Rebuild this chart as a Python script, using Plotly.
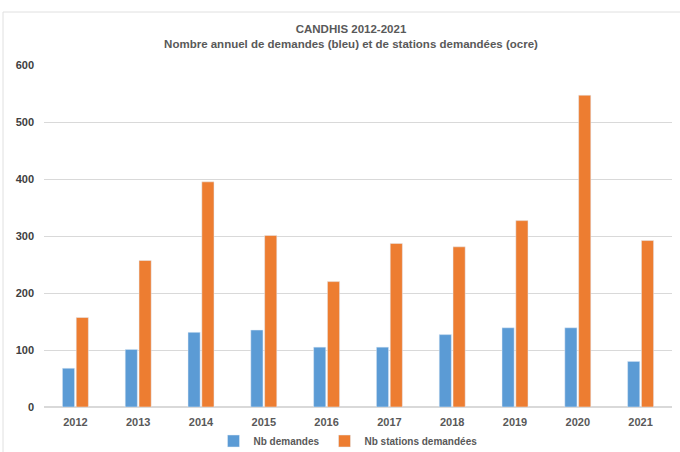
import plotly.graph_objects as go

years = ["2012", "2013", "2014", "2015", "2016", "2017", "2018", "2019", "2020", "2021"]
nb_demandes = [68, 101, 131, 135, 105, 105, 127, 139, 139, 80]
nb_stations = [157, 257, 395, 301, 220, 287, 281, 327, 547, 292]

FONT = "Liberation Sans"
GREY = "#595959"

fig = go.Figure()
fig.add_trace(go.Bar(name="<b>Nb demandes</b>", x=years, y=nb_demandes, marker_color="#5b9bd5"))
fig.add_trace(go.Bar(name="<b>Nb stations demandées</b>", x=years, y=nb_stations, marker_color="#ed7d31"))

fig.update_layout(
    width=680, height=452,
    margin=dict(l=44, r=8, t=65, b=45, autoexpand=False),
    paper_bgcolor="white", plot_bgcolor="white",
    barmode="group", bargap=0.56, bargroupgap=0.12,
    font=dict(family=FONT, color=GREY),
    title=dict(
        text="<b>CANDHIS 2012-2021</b><br><b>Nombre annuel de demandes (bleu) et de stations demandées (ocre)</b>",
        x=351 / 680, xanchor="center", y=1 - 33 / 452, yanchor="middle",
        font=dict(family=FONT, size=11.5, color=GREY),
    ),
    showlegend=True,
    legend=dict(
        orientation="h", xref="container", x=348 / 680, xanchor="center",
        yref="container", y=(452 - 441) / 452, yanchor="middle",
        font=dict(family=FONT, size=10, color=GREY), itemwidth=30,
        tracegroupgap=0,
    ),
    xaxis=dict(
        showgrid=False, showline=False, ticks="", automargin=False,
        tickfont=dict(family=FONT, size=11, color=GREY),
        tickprefix="<b>", ticksuffix="</b>", ticklabelstandoff=7,
    ),
    yaxis=dict(
        range=[0, 600], dtick=100, showgrid=True, gridcolor="#d9d9d9", gridwidth=1,
        zeroline=True, zerolinecolor="#d9d9d9", showline=False, ticks="", automargin=False,
        tickfont=dict(family=FONT, size=11, color="#404040"),
        tickprefix="<b>", ticksuffix="</b>", ticklabelstandoff=9,
    ),
    shapes=[
        dict(type="rect", xref="paper", yref="paper",
             x0=-41 / 628, x1=1 + 20 / 628, y0=-1, y1=1 + 53 / 342,
             line=dict(color="#e0e0e0", width=1), fillcolor="rgba(0,0,0,0)", layer="below"),
    ],
)

fig.write_html("out.html")
